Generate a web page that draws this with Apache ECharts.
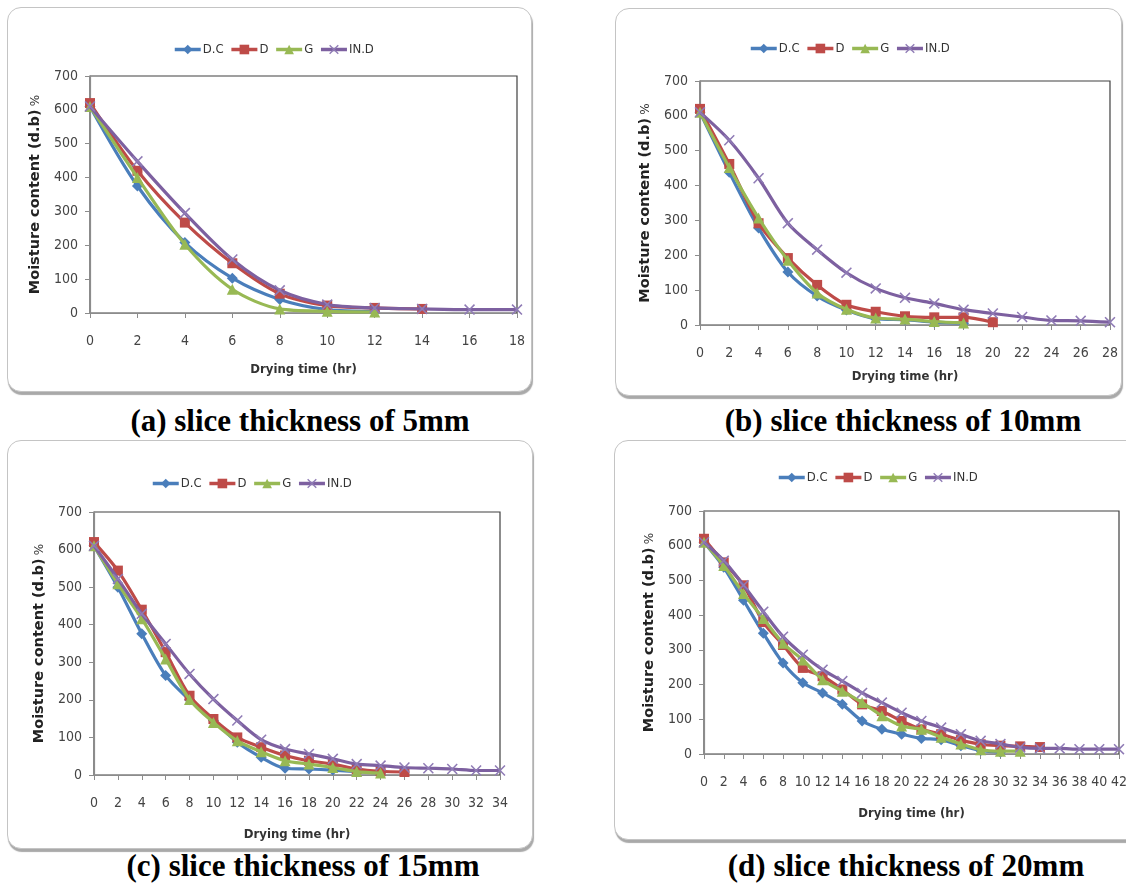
<!DOCTYPE html>
<html>
<head>
<meta charset="utf-8">
<title>Drying curves</title>
<script src="https://cdn.jsdelivr.net/npm/echarts@6/dist/echarts.min.js"></script>
<style>
    html, body { margin: 0; padding: 0; background: #fff; }
    body { position: relative; width: 1126px; height: 887px; overflow: hidden; }
    .box {
        position: absolute; box-sizing: border-box; background: #fff;
        border: 1.5px solid #c4c4c4; border-radius: 14px;
        box-shadow: 1px 3px 1px #a9a9a9;
    }
    .chart { position: absolute; left: 0; top: 0; width: 100%; height: 100%; }
    .cap {
        position: absolute; white-space: nowrap; color: #000;
        font: bold 31px 'Liberation Serif', 'Times New Roman', serif;
        transform: translate(-50%, -50%);
    }
</style>
</head>
<body>
<div class="box" style="left:7px;top:7px;width:525px;height:385px"><div class="chart" id="chartA"></div></div>
<div class="box" style="left:615px;top:8px;width:507px;height:388px"><div class="chart" id="chartB"></div></div>
<div class="box" style="left:7px;top:440px;width:526px;height:409px"><div class="chart" id="chartC"></div></div>
<div class="box" style="left:614px;top:440px;width:530px;height:400px"><div class="chart" id="chartD"></div></div>

<div class="cap" style="left:300px;top:421px">(a) slice thickness of 5mm</div>
<div class="cap" style="left:903px;top:421px">(b) slice thickness of 10mm</div>
<div class="cap" style="left:303px;top:866px">(c) slice thickness of 15mm</div>
<div class="cap" style="left:906px;top:866px">(d) slice thickness of 20mm</div>

<script>
// drying time (hr) categories
let timesA = ['0', '2', '4', '6', '8', '10', '12', '14', '16', '18'];
let timesB = ['0', '2', '4', '6', '8', '10', '12', '14', '16', '18', '20', '22', '24', '26', '28'];
let timesC = ['0', '2', '4', '6', '8', '10', '12', '14', '16', '18', '20', '22', '24', '26', '28', '30', '32', '34'];
let timesD = ['0', '2', '4', '6', '8', '10', '12', '14', '16', '18', '20', '22', '24', '26', '28', '30', '32', '34', '36', '38', '40', '42'];

let seriesNames = ['D.C', 'D', 'G', 'IN.D'];
let yTicks = [0, 100, 200, 300, 400, 500, 600, 700];

// (a) 5mm
let dcA = [610, 375, 208, 103, 40, 10, 5];
let dA = [620, 420, 267, 147, 57, 22, 15, 12];
let gA = [610, 400, 203, 70, 12, 5, 3];
let indA = [610, 448, 295, 158, 67, 25, 15, 12, 10, 10];

// (b) 10mm
let dcB = [610, 438, 278, 152, 83, 43, 18, 15, 8, 5];
let dB = [620, 462, 292, 192, 115, 58, 38, 25, 22, 22, 8];
let gB = [610, 452, 307, 186, 92, 45, 20, 17, 10, 6];
let indB = [610, 530, 421, 292, 216, 150, 105, 78, 62, 44, 33, 23, 13, 12, 8];

// (c) 15mm
let dcC = [610, 500, 376, 265, 200, 145, 87, 47, 18, 16, 13, 9, 5];
let dC = [620, 544, 440, 327, 211, 149, 100, 74, 52, 38, 29, 16, 10, 8];
let gC = [610, 509, 416, 309, 201, 140, 91, 62, 38, 29, 20, 9, 5];
let indC = [610, 522, 429, 349, 269, 202, 145, 94, 69, 56, 43, 29, 25, 20, 18, 16, 12, 12];

// (d) 20mm
let dcD = [610, 538, 443, 348, 262, 205, 176, 143, 95, 71, 57, 45, 41, 24, 10, 5];
let dD = [620, 552, 486, 380, 314, 248, 224, 186, 143, 124, 95, 71, 57, 40, 28, 24, 22, 20];
let gD = [610, 543, 462, 390, 319, 271, 214, 181, 148, 110, 81, 71, 48, 29, 12, 8, 8];
let indD = [610, 557, 486, 410, 338, 286, 243, 210, 176, 148, 119, 95, 76, 57, 38, 29, 19, 16, 16, 14, 14, 14];


let colors = ['#4a7ebb', '#be4b48', '#98b954', '#7d60a0'];
let xMark = 'path://M0,1L1,0L5,4L9,0L10,1L6,5L10,9L9,10L5,6L1,10L0,9L4,5Z';
let symbols = ['diamond', 'rect', 'triangle', xMark];
let symbolSizes = [11, 10, 11, 11];
let tickFont = "'DejaVu Sans Condensed', 'Liberation Sans Narrow', 'Liberation Sans', sans-serif";

let makeSeries = (list) => list.map((data, i) => ({
    name: seriesNames[i],
    type: 'line',
    data: data,
    smooth: 0.3,
    symbol: symbols[i],
    symbolSize: symbolSizes[i],
    showAllSymbol: true,
    lineStyle: { width: 3.2, color: colors[i] },
    itemStyle: { color: i === 3 ? '#8f7bb5' : colors[i] },
    z: 2 + i
}));

let makeOption = (p) => ({
    animation: false,
    color: colors,
    legend: {
        left: p.legendLeft,
        top: p.legendTop,
        itemWidth: 26,
        itemHeight: 12,
        itemGap: 6,
        lineStyle: { width: 3.5 },
        textStyle: { fontFamily: tickFont, fontSize: 13, color: '#333', padding: [0, 0, 0, -3] },
        data: seriesNames
    },
    grid: {
        left: p.grid[0], top: p.grid[1], right: p.grid[2], bottom: p.grid[3],
        show: true, borderColor: '#404040', borderWidth: 1.2, backgroundColor: '#fff'
    },
    xAxis: {
        type: 'category',
        data: p.times,
        boundaryGap: false,
        name: 'Drying time (hr)',
        nameLocation: 'middle',
        nameGap: p.xNameGap,
        nameTextStyle: { fontFamily: tickFont, fontSize: 13, fontWeight: 'bold', color: '#333' },
        axisLine: { lineStyle: { color: '#8c8c8c', width: 1.2 } },
        axisTick: { show: true, alignWithLabel: true, length: 5, lineStyle: { color: '#8c8c8c' } },
        axisLabel: { interval: 0, margin: 21, fontFamily: tickFont, fontSize: 14, color: '#444' },
        splitLine: { show: false }
    },
    yAxis: {
        type: 'value',
        min: yTicks[0],
        max: yTicks[yTicks.length - 1],
        interval: 100,
        name: '{b|Moisture content (d.b)} {p|%}',
        nameLocation: 'middle',
        nameGap: p.yNameGap,
        nameTextStyle: {
            rich: {
                b: { fontFamily: 'DejaVu Sans', fontSize: 14.5, fontWeight: 'bold', color: '#222' },
                p: { fontFamily: 'DejaVu Sans', fontSize: 12, color: '#333' }
            }
        },
        axisLine: { show: true, lineStyle: { color: '#8c8c8c', width: 1.2 } },
        axisTick: { show: true, length: 5, lineStyle: { color: '#8c8c8c' } },
        axisLabel: { margin: 12, fontFamily: tickFont, fontSize: 14, color: '#444' },
        splitLine: { show: false }
    },
    series: makeSeries(p.data)
});

let panels = [
    { id: 'chartA', times: timesA, data: [dcA, dA, gA, indA], grid: [82, 68, 14, 78], legendLeft: 160, legendTop: 30, xNameGap: 50, yNameGap: 45 },
    { id: 'chartB', times: timesB, data: [dcB, dB, gB, indB], grid: [84, 72, 10, 70], legendLeft: 128, legendTop: 28, xNameGap: 45, yNameGap: 45 },
    { id: 'chartC', times: timesC, data: [dcC, dC, gC, indC], grid: [86, 71, 32, 73], legendLeft: 138, legendTop: 31, xNameGap: 53, yNameGap: 45 },
    { id: 'chartD', times: timesD, data: [dcD, dD, gD, indD], grid: [89, 70, 24, 85], legendLeft: 157, legendTop: 25, xNameGap: 53, yNameGap: 45 }
];

panels.forEach(p => {
    let myChart = echarts.init(document.getElementById(p.id));
    myChart.setOption(makeOption(p));
});
</script>
</body>
</html>
